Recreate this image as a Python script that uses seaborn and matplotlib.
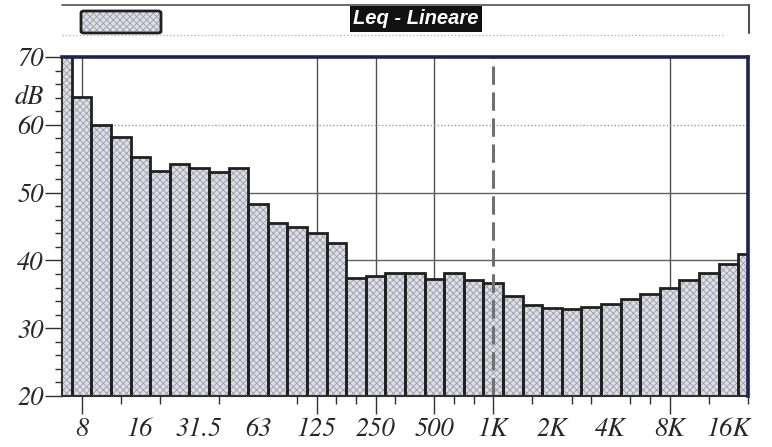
import matplotlib
matplotlib.use("Agg")
import matplotlib.pyplot as plt
import seaborn as sns
import pandas as pd
from matplotlib import font_manager
from matplotlib.lines import Line2D
from matplotlib.patches import FancyBboxPatch
from matplotlib.transforms import blended_transform_factory

# One-third-octave band centre frequencies
bands = ["6.3", "8", "10", "12.5", "16", "20", "25", "31.5", "40", "50",
         "63", "80", "100", "125", "160", "200", "250", "315", "400", "500",
         "630", "800", "1K", "1.25K", "1.6K", "2K", "2.5K", "3.15K", "4K", "5K",
         "6.3K", "8K", "10K", "12.5K", "16K", "20K"]
# Linear Leq per band, dB
leq = [72.0, 64.1, 60.0, 58.2, 55.3, 53.2, 54.2, 53.6, 53.1, 53.6,
       48.3, 45.5, 45.0, 44.0, 42.6, 37.4, 37.7, 38.2, 38.1, 37.3,
       38.1, 37.1, 36.6, 34.7, 33.4, 33.0, 32.9, 33.1, 33.6, 34.3,
       35.0, 36.0, 37.1, 38.2, 39.5, 40.9]

label_bands = ["8", "16", "31.5", "63", "125", "250", "500", "1K", "2K", "4K", "8K", "16K"]
long_tick_bands = ["8", "125", "250", "500", "1K", "8K"]
short_tick_bands = ["12.5", "20", "40", "100", "160", "200", "315", "630", "800",
                    "1.6K", "2.5K", "3.15K", "5K", "6.3K", "12.5K", "20K"]
vgrid_bands = ["8", "125", "250", "500", "8K"]
marker_band = "1K"
hgrid_levels = [40, 50]
hgrid_dotted = [60]
y_major = [20, 30, 40, 50, 60, 70]
y_minor = list(range(20, 71, 2))

df = pd.DataFrame({"band": bands, "leq": leq})
pos = {b: i for i, b in enumerate(bands)}

sns.set_style("ticks")
plt.rcParams["font.family"] = ["STIXGeneral", "DejaVu Serif"]
plt.rcParams["hatch.linewidth"] = 0.6

# Times-like italic face for all axis numbers
tick_fp = font_manager.FontProperties(family="STIXGeneral", style="italic", size=19)
tick_fp = font_manager.FontProperties(fname=font_manager.findfont(tick_fp), size=19)

W, H = 772, 447
fig = plt.figure(figsize=(W / 100, H / 100), dpi=100)
ax = fig.add_axes([62 / W, 1 - 396 / H, 686 / W, 339 / H])

fill_col = "#dedee6"
hatch_col = "#9c9cab"
edge_col = "#202020"

# textured fill
sns.barplot(data=df, x="band", y="leq", order=bands, color=fill_col,
            saturation=1, width=1.0, linewidth=0, errorbar=None, ax=ax, zorder=2)
for p in ax.patches:
    p.set_hatch("xxxxx")
    p.set_edgecolor(hatch_col)
    p.set_linewidth(0)
n_fill = len(ax.patches)
# outlines
sns.barplot(data=df, x="band", y="leq", order=bands, color=edge_col, fill=False,
            width=1.0, linewidth=2.0, errorbar=None, ax=ax, zorder=3)
for p in ax.patches[n_fill:]:
    p.set_edgecolor(edge_col)
    p.set_facecolor("none")

ax.set_xlim(0, len(bands) - 1)
ax.set_ylim(20, 70)
ax.set_xlabel("")
ax.set_ylabel("")

# reference lines
for b in vgrid_bands:
    ax.axvline(pos[b], color="#505050", lw=1.0, zorder=1)
ax.axvline(pos[marker_band], color="#707070", lw=2.2, ls=(0, (6, 2.5)), zorder=4)
for v in hgrid_levels:
    ax.axhline(v, color="#606060", lw=1.0, zorder=1)
for v in hgrid_dotted:
    ax.axhline(v, color="#9a9a9a", lw=1.0, ls=(0, (1, 1.5)), zorder=1)

# x axis: labels, long and short tick marks
ax.set_xticks([pos[b] for b in label_bands])
ax.set_xticklabels(label_bands)
ax.tick_params(axis="x", which="major", length=0, pad=15)
ax.set_xticks([pos[b] for b in short_tick_bands], minor=True)
ax.tick_params(axis="x", which="minor", length=6, width=1.0, color="#303030")
sec = ax.secondary_xaxis("bottom")
sec.set_xticks([pos[b] for b in long_tick_bands])
sec.set_xticklabels([""] * len(long_tick_bands))
sec.tick_params(length=13, width=1.0, color="#303030")
sec.spines["bottom"].set_visible(False)

# y axis
ax.set_yticks(y_major)
ax.set_yticklabels([str(v) for v in y_major])
ax.set_yticks(y_minor, minor=True)
ax.tick_params(axis="y", which="major", length=12, width=1.0, pad=1, color="#303030")
ax.tick_params(axis="y", which="minor", length=5, width=1.0, color="#303030")
trans = blended_transform_factory(ax.transAxes, ax.transData)
ax.text(-18 / 686, 64, "dB", transform=trans, ha="right", va="center",
        fontproperties=tick_fp)

for lab in ax.get_xticklabels() + ax.get_yticklabels():
    lab.set_fontproperties(tick_fp)

for s in ["left", "bottom"]:
    ax.spines[s].set_color("#303030")
    ax.spines[s].set_linewidth(1.5)
for s in ["top", "right"]:
    ax.spines[s].set_color("#1d2450")
    ax.spines[s].set_linewidth(2.6)
for s in ax.spines.values():
    s.set_zorder(5)


# header strip with legend swatch and title
def fx(x):
    return x / W


def fy(y):
    return 1 - y / H


fig.add_artist(Line2D([fx(62), fx(749)], [fy(5), fy(5)], color="#505050", lw=1.2))
fig.add_artist(Line2D([fx(749), fx(749)], [fy(5), fy(33)], color="#505050", lw=1.5))
fig.add_artist(Line2D([fx(62), fx(725)], [fy(35), fy(35)], color="#b8b8b8", lw=1.0,
                      ls=(0, (1, 1.5))))
swatch = FancyBboxPatch((fx(81), fy(33)), fx(80), 22 / H,
                        boxstyle="round,pad=0,rounding_size=0.004",
                        transform=fig.transFigure, facecolor=fill_col,
                        edgecolor=hatch_col, hatch="xxxxx", lw=0)
fig.add_artist(swatch)
swatch_edge = FancyBboxPatch((fx(81), fy(33)), fx(80), 22 / H,
                             boxstyle="round,pad=0,rounding_size=0.004",
                             transform=fig.transFigure, facecolor="none",
                             edgecolor=edge_col, lw=2.0)
fig.add_artist(swatch_edge)
fig.text(fx(416), fy(19), "Leq - Lineare", ha="center", va="center", color="white",
         family="Liberation Sans", weight="bold", style="italic", size=14.5,
         bbox=dict(facecolor="#111111", edgecolor="none", pad=2.5))

fig.savefig("out.png", dpi=100)
